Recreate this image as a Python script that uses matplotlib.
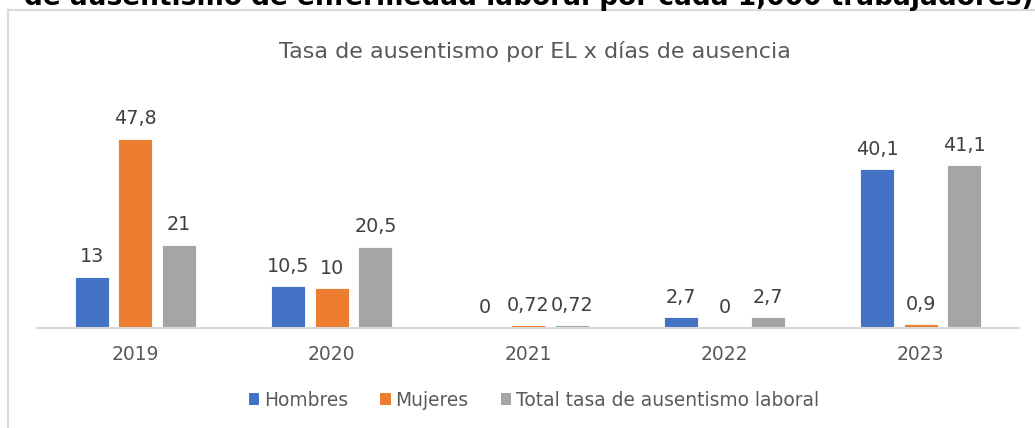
import numpy as np
import matplotlib
matplotlib.use("Agg")
import matplotlib.pyplot as plt
from matplotlib.patches import Patch
from matplotlib.lines import Line2D

# datos
years = ["2019", "2020", "2021", "2022", "2023"]
hombres = [13, 10.5, 0, 2.7, 40.1]
mujeres = [47.8, 10, 0.72, 0, 0.9]
total = [21, 20.5, 0.72, 2.7, 41.1]
series_names = ["Hombres", "Mujeres", "Total tasa de ausentismo laboral"]
colors = ["#4472C4", "#ED7D31", "#A5A5A5"]

W, H = 1035, 428
fig = plt.figure(figsize=(W / 100, H / 100), dpi=100)
plt.rcParams['font.family'] = ['DejaVu Sans']

ax = fig.add_axes([37.3 / W, (H - 328) / H, 981.7 / W, 237.6 / H])

x = np.arange(len(years))
pitch = 0.222
width = 0.173
for k, (vals, col) in enumerate(zip([hombres, mujeres, total], colors)):
    pos = x + (k - 1) * pitch
    ax.bar(pos, vals, width, color=col, edgecolor='white', linewidth=0.6, zorder=2)
    for p, v in zip(pos, vals):
        lab = f"{v:g}".replace('.', ',')
        ax.annotate(lab, (p, v), xytext=(0, 10.5), textcoords='offset points',
                    ha='center', va='baseline', fontsize=13.8, color='#404040')

ax.set_xlim(-0.5, len(years) - 0.5)
ax.set_ylim(0, 60)
ax.set_xticks(x)
ax.set_xticklabels(years, fontsize=13.5, color='#595959')
ax.tick_params(axis='x', length=0, pad=12.5)
ax.set_yticks([])
for s in ['top', 'right', 'left']:
    ax.spines[s].set_visible(False)
ax.spines['bottom'].set_color('#D9D9D9')
ax.spines['bottom'].set_linewidth(1.5)
ax.patch.set_alpha(0)

fig.text(535 / W, 1 - 51 / H, "Tasa de ausentismo por EL x días de ausencia",
         ha='center', va='center', fontsize=16, color='#595959')

# titulo cortado arriba
fig.text(528.5 / W, 1 - 5 / H,
         "de ausentismo de enfermedad laboral por cada 1,000 trabajadores)",
         ha='center', va='baseline', fontsize=19, fontweight='bold', color='black')

# borde del area del grafico
fig.add_artist(Line2D([8 / W, 8 / W], [0, 1 - 10 / H], color='#D9D9D9', lw=1.5))
fig.add_artist(Line2D([8 / W, 1], [1 - 10 / H, 1 - 10 / H], color='#D9D9D9', lw=1.5))

handles = [Patch(facecolor=c, edgecolor='none') for c in colors]
fig.legend(handles, series_names, loc='center', bbox_to_anchor=(534 / W, 1 - 400 / H),
           ncol=3, frameon=False, fontsize=13.4, labelcolor='#595959',
           handlelength=0.55, handleheight=0.55, handletextpad=0.25, columnspacing=1.75)

fig.savefig("out.png", dpi=100)
